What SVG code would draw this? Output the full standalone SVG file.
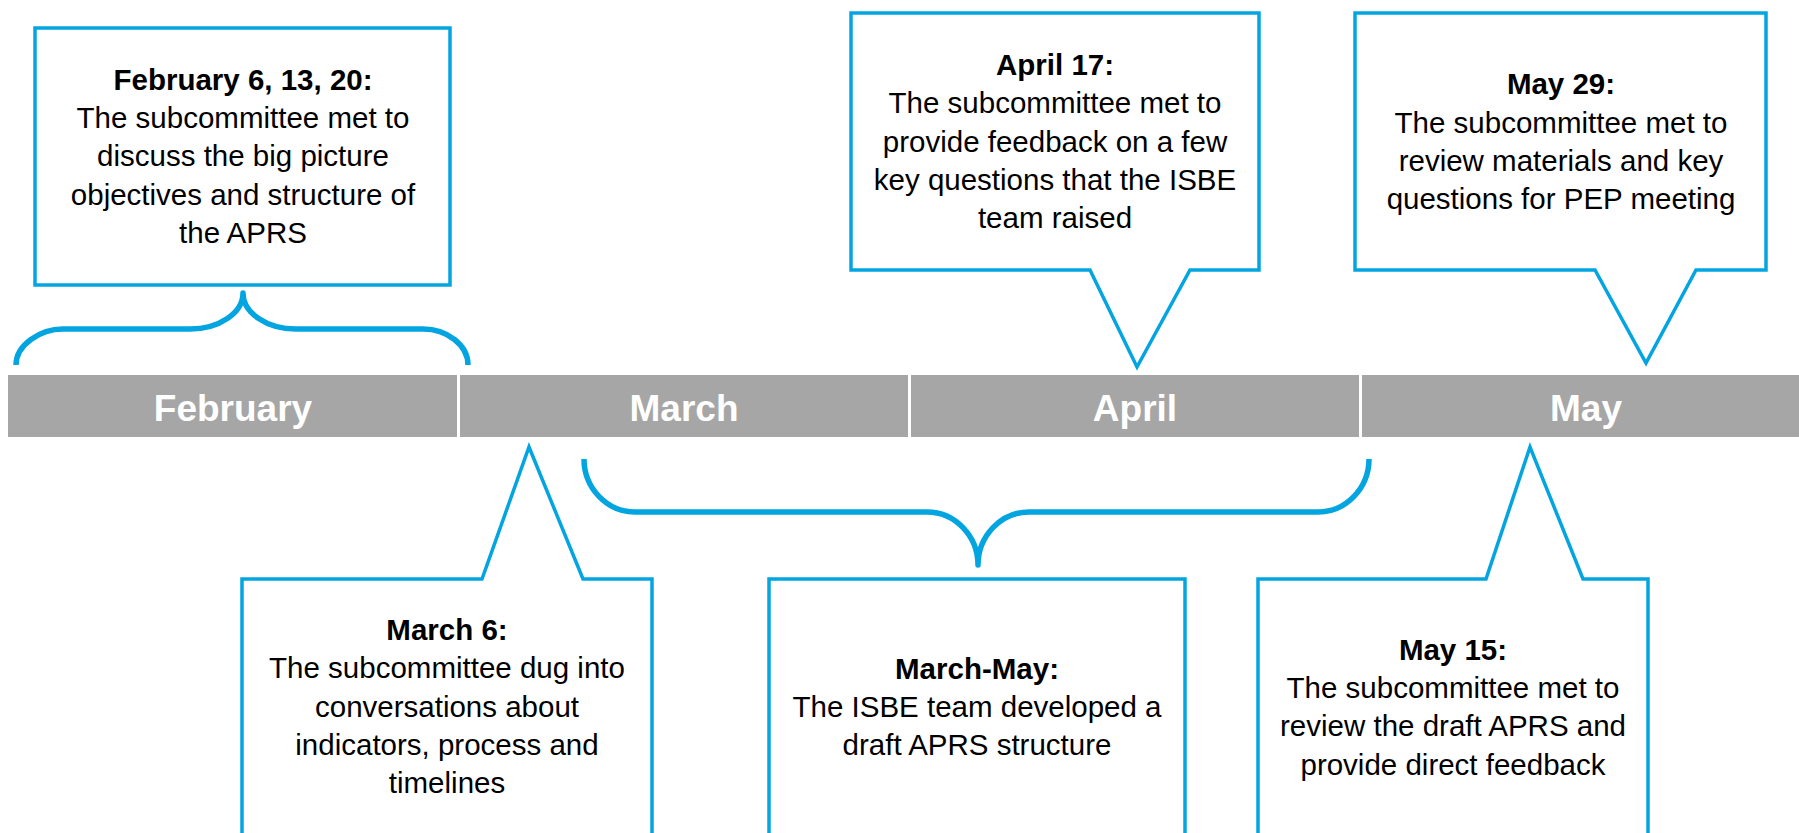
<svg xmlns="http://www.w3.org/2000/svg" width="1799" height="833" viewBox="0 0 1799 833">
  <style>
    .box { fill: #FFFFFF; stroke: #03A5E0; stroke-width: 3.5; stroke-linejoin: miter; }
    .brace { fill: none; stroke: #03A5E0; stroke-width: 5.5; stroke-linejoin: round; stroke-linecap: butt; }
    .bar { fill: #A6A6A6; }
    .div { stroke: #FFFFFF; stroke-width: 3; }
    .month { font-family: "Liberation Sans", Arial, sans-serif; font-weight: bold; font-size: 37px; fill: #FFFFFF; text-anchor: middle; }
    .t { font-family: "Liberation Sans", Arial, sans-serif; font-size: 29.5px; fill: #000000; text-anchor: middle; }
    .b { font-weight: bold; }
  </style>
  <rect width="1799" height="833" fill="#FFFFFF"/>

  <g id="timeline">
    <rect class="bar" x="8" y="375" width="1800" height="62"/>
    <line class="div" x1="458.5" y1="375" x2="458.5" y2="437"/>
    <line class="div" x1="909.5" y1="375" x2="909.5" y2="437"/>
    <line class="div" x1="1360.5" y1="375" x2="1360.5" y2="437"/>
    <text class="month" x="233" y="421">February</text>
    <text class="month" x="684" y="421">March</text>
    <text class="month" x="1135" y="421">April</text>
    <text class="month" x="1586" y="421">May</text>
  </g>

  <g id="connectors">
    <path class="brace" d="M16,365 C16,345 40,329 63,329 H190 C219,329 243,313 243,293 C243,313 267,329 296,329 H423 C447,329 468,345 468,365"/>
    <path class="brace" d="M584,459 C584,488 607,512 635,512 H927 C955,512 978,536 978,565 C978,536 1001,512 1029,512 H1318 C1346,512 1369,488 1369,459"/>
  </g>

  <g id="feb">
    <rect class="box" x="35" y="28" width="415" height="257"/>
    <text class="t" x="243" y="90"><tspan class="b">February 6, 13, 20:</tspan><tspan x="243" y="128">The subcommittee met to</tspan><tspan x="243" y="166">discuss the big picture</tspan><tspan x="243" y="205">objectives and structure of</tspan><tspan x="243" y="243">the APRS</tspan></text>
  </g>

  <g id="april17">
    <path class="box" d="M851,13 H1259 V270 H1190 L1137,367 L1090,270 H851 Z"/>
    <text class="t" x="1055" y="75"><tspan class="b">April 17:</tspan><tspan x="1055" y="113">The subcommittee met to</tspan><tspan x="1055" y="152">provide feedback on a few</tspan><tspan x="1055" y="190">key questions that the ISBE</tspan><tspan x="1055" y="228">team raised</tspan></text>
  </g>

  <g id="may29">
    <path class="box" d="M1355,13 H1766 V270 H1696 L1646,363 L1595,270 H1355 Z"/>
    <text class="t" x="1561" y="94"><tspan class="b">May 29:</tspan><tspan x="1561" y="133">The subcommittee met to</tspan><tspan x="1561" y="171">review materials and key</tspan><tspan x="1561" y="209">questions for PEP meeting</tspan></text>
  </g>

  <g id="march6">
    <path class="box" d="M242,579 H482 L529,447 L583,579 H652 V850 H242 Z"/>
    <text class="t" x="447" y="640"><tspan class="b">March 6:</tspan><tspan x="447" y="678">The subcommittee dug into</tspan><tspan x="447" y="717">conversations about</tspan><tspan x="447" y="755">indicators, process and</tspan><tspan x="447" y="793">timelines</tspan></text>
  </g>

  <g id="marchmay">
    <rect class="box" x="769" y="579" width="416" height="271"/>
    <text class="t" x="977" y="679"><tspan class="b">March-May:</tspan><tspan x="977" y="717">The ISBE team developed a</tspan><tspan x="977" y="755">draft APRS structure</tspan></text>
  </g>

  <g id="may15">
    <path class="box" d="M1258,579 H1486 L1530,447 L1583,579 H1648 V850 H1258 Z"/>
    <text class="t" x="1453" y="660"><tspan class="b">May 15:</tspan><tspan x="1453" y="698">The subcommittee met to</tspan><tspan x="1453" y="736">review the draft APRS and</tspan><tspan x="1453" y="775">provide direct feedback</tspan></text>
  </g>
</svg>
